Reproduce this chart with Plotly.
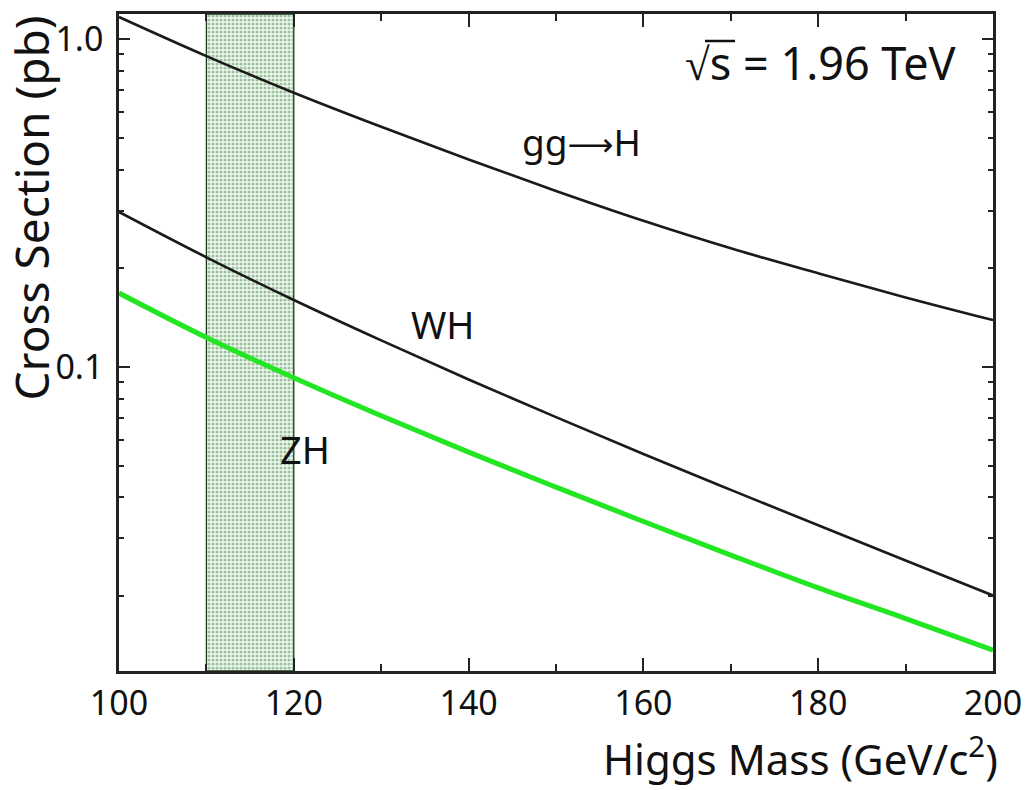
import numpy as np
import plotly.graph_objects as go

# Higgs mass grid (GeV/c^2)
mass = [100, 110, 120, 130, 140, 150, 160, 170, 180, 190, 200]

# Production cross sections at sqrt(s) = 1.96 TeV (pb)
sigma_ggH = [1.167, 0.887, 0.686, 0.540, 0.429, 0.344, 0.279, 0.230, 0.193, 0.163, 0.139]
sigma_WH = [0.297, 0.216, 0.160, 0.1205, 0.0916, 0.0703, 0.0543, 0.0422, 0.0329, 0.0257, 0.0201]
sigma_ZH = [0.168, 0.123, 0.0927, 0.0710, 0.0550, 0.0430, 0.0338, 0.0267, 0.0212, 0.0171, 0.0137]

# Preferred low-mass window
band_lo, band_hi = 110, 120

# Axis settings
x_range = [100, 200]
y_range = [0.01183, 1.192]
x_major = [100, 120, 140, 160, 180, 200]
x_minor = [110, 130, 150, 170, 190]
y_major = [0.1, 1.0]
y_major_text = ["0.1", "1.0"]
y_minor = [0.02, 0.03, 0.04, 0.05, 0.06, 0.07, 0.08, 0.09,
           0.2, 0.3, 0.4, 0.5, 0.6, 0.7, 0.8, 0.9]

FONT = "Noto Sans"
INK = "#111111"

# page layout in pixels
W, H = 1028, 790
L, R, T, B = 119, 35, 14, 119
pw, ph = W - L - R, H - T - B


def px(x):
    return (x - L) / pw


def py(y):
    return (H - B - y) / ph


fig = go.Figure()

# shaded mass window
fig.add_trace(go.Scatter(
    x=[band_lo, band_hi, band_hi, band_lo, band_lo],
    y=[y_range[0], y_range[0], y_range[1], y_range[1], y_range[0]],
    mode="lines", fill="toself",
    fillcolor="#eaf5ea",
    fillpattern=dict(shape=".", fgcolor="#4a8a4a", bgcolor="#f0f9f0",
                     size=4, solidity=0.5),
    line=dict(color="#1d3a1d", width=1.3),
    hoverinfo="skip", showlegend=False,
))

curve_style = dict(shape="spline", smoothing=1.0)
fig.add_trace(go.Scatter(x=mass, y=sigma_ggH, mode="lines",
                         line=dict(color="#1a1a1a", width=2.6, **curve_style),
                         name="gg→H", showlegend=False))
fig.add_trace(go.Scatter(x=mass, y=sigma_WH, mode="lines",
                         line=dict(color="#1a1a1a", width=2.6, **curve_style),
                         name="WH", showlegend=False))
fig.add_trace(go.Scatter(x=mass, y=sigma_ZH, mode="lines",
                         line=dict(color="#22e622", width=5, **curve_style),
                         name="ZH", showlegend=False))

fig.update_xaxes(
    type="linear", range=x_range, automargin=False,
    tickmode="array", tickvals=x_major, ticktext=[str(v) for v in x_major],
    ticks="inside", ticklen=13, tickwidth=2, tickcolor="#222",
    minor=dict(tickmode="array", tickvals=x_minor, ticks="inside",
               ticklen=7, tickwidth=2, tickcolor="#222"),
    showline=True, linecolor="#222", linewidth=2.5, mirror="allticks",
    showgrid=False, zeroline=False,
    tickfont=dict(family=FONT, size=34, color=INK),
    ticklabelstandoff=0,
)
fig.update_yaxes(
    type="log", range=[np.log10(y_range[0]), np.log10(y_range[1])],
    automargin=False,
    tickmode="array", tickvals=y_major, ticktext=y_major_text,
    ticks="inside", ticklen=11, tickwidth=2, tickcolor="#222",
    minor=dict(tickmode="array", tickvals=y_minor, ticks="inside",
               ticklen=5, tickwidth=2, tickcolor="#222"),
    showline=True, linecolor="#222", linewidth=2.5, mirror="allticks",
    showgrid=False, zeroline=False,
    tickfont=dict(family=FONT, size=34, color=INK),
    ticklabelstandoff=6,
)

annotations = [
    dict(text="gg<span style='font-family:DejaVu Sans;font-size:32px'>⟶</span>H",
         x=px(581), y=py(141), size=37),
    dict(text="WH", x=px(443), y=py(324), size=38),
    dict(text="ZH", x=px(305), y=py(449), size=38),
    dict(text="√s = 1.96 TeV", x=px(820), y=py(62), size=45),
]
for a in annotations:
    fig.add_annotation(
        text=a["text"], x=a["x"], y=a["y"], xref="paper", yref="paper",
        xanchor="center", yanchor="middle", showarrow=False,
        font=dict(family=FONT, size=a["size"], color=INK),
    )

# bar of the square-root sign, extended over the "s"
fig.add_shape(type="line", xref="paper", yref="paper",
              x0=px(705), x1=px(735), y0=py(41), y1=py(41),
              line=dict(color=INK, width=2.5))

# axis titles, aligned to the far ends of the axes
fig.add_annotation(
    text="Higgs Mass (GeV/c<sup>2</sup>)", x=px(1000), y=py(757),
    xref="paper", yref="paper", xanchor="right", yanchor="middle",
    showarrow=False, font=dict(family=FONT, size=42, color=INK),
)
fig.add_annotation(
    text="Cross Section (pb)", x=px(30), y=py(14),
    xref="paper", yref="paper", xanchor="center", yanchor="top",
    textangle=-90, showarrow=False,
    font=dict(family=FONT, size=46, color=INK),
)

fig.update_layout(
    width=W, height=H,
    margin=dict(l=L, r=R, t=T, b=B),
    paper_bgcolor="white", plot_bgcolor="white",
    showlegend=False,
)

fig.write_html("out.html")
